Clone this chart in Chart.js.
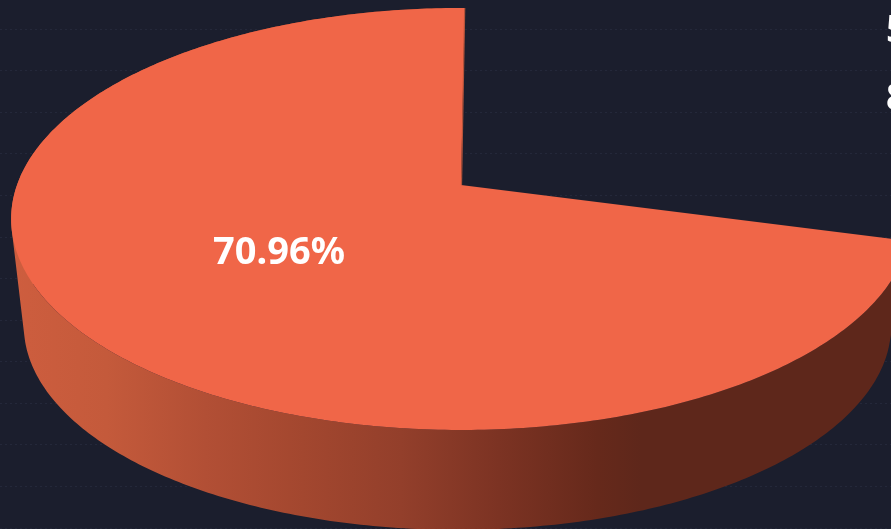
<!DOCTYPE html>
<html>
<head>
<meta charset="utf-8">
<title>Pie</title>
<script src="https://cdn.jsdelivr.net/npm/chart.js@4"></script>
<style>
    html, body { margin: 0; padding: 0; background: #1b1e2d; overflow: hidden; }
    #wrap { position: relative; width: 891px; height: 529px; }
</style>
</head>
<body>
<div id="wrap"><canvas id="myChart"></canvas></div>
<script>
"use strict";

const sliceNames = ['A', 'B'];
const sliceValues = [70.96, 29.04];
const sliceColors = ['#f06648', 'rgba(0, 0, 0, 0)'];
const sideLabels = ['5', '8'];
const gridTicks = [0, 1, 2, 3, 4, 5, 6, 7, 8, 9, 10, 11, 12];

// perspective look of the disc, top face and bottom face
const tilt = -0.161;
const topFace = { x: 461, y: 185, a: 444, b: 205.5 };
const bottomFace = { x: 457.5, y: 293, a: 428, b: 198.7 };

function project(face, angle, r) {
    const u = Math.cos(angle) * r;
    const v = Math.sin(angle) * r;
    const d = 1 + tilt * v;
    return { x: face.x + face.a * u / d, y: face.y + face.b * v / d };
}

function wallGradient(ctx) {
    const g = ctx.createLinearGradient(0, 0, 891, 0);
    g.addColorStop(0, '#cf5e3f');
    g.addColorStop(0.12, '#c45a3b');
    g.addColorStop(0.23, '#b24f35');
    g.addColorStop(0.34, '#a3472f');
    g.addColorStop(0.45, '#933f2b');
    g.addColorStop(0.56, '#7c3323');
    g.addColorStop(0.67, '#66291b');
    g.addColorStop(0.72, '#5e271b');
    g.addColorStop(1, '#5e271b');
    return g;
}

const disc3d = {
    id: 'disc3d',
    beforeDatasetsDraw(chart) {
        const ctx = chart.ctx;
        const arc = chart.getDatasetMeta(0).data[0];
        const start = arc.startAngle;
        const end = arc.endAngle;
        const steps = 360;
        const step = (end - start) / steps;

        // side wall, one path so the pieces leave no seams
        ctx.save();
        ctx.fillStyle = wallGradient(ctx);
        ctx.beginPath();
        for (let i = 0; i < steps; i++) {
            const t0 = start + i * step;
            const t1 = t0 + step;
            const quad = [project(topFace, t0, 1), project(topFace, t1, 1),
                project(bottomFace, t1, 1), project(bottomFace, t0, 1)];
            let area = 0;
            quad.forEach((p, k) => {
                const q = quad[(k + 1) % 4];
                area += p.x * q.y - q.x * p.y;
            });
            if (area < 0) {
                quad.reverse();
            }
            ctx.moveTo(quad[0].x, quad[0].y);
            quad.slice(1).forEach(p => ctx.lineTo(p.x, p.y));
            ctx.closePath();
        }
        ctx.fill();

        // top face
        ctx.fillStyle = arc.options.backgroundColor;
        ctx.beginPath();
        ctx.moveTo(topFace.x, topFace.y);
        for (let i = 0; i <= steps; i++) {
            const p = project(topFace, start + i * step, 1);
            ctx.lineTo(p.x, p.y);
        }
        ctx.closePath();
        ctx.fill();

        // thin shaded edge on the cut
        const tip = project(topFace, end, 1);
        ctx.strokeStyle = '#b5533a';
        ctx.lineWidth = 1.2;
        ctx.beginPath();
        ctx.moveTo(topFace.x + 0.5, topFace.y);
        ctx.lineTo(tip.x, tip.y);
        ctx.stroke();
        ctx.restore();
        return false;
    },
    afterDraw(chart) {
        const ctx = chart.ctx;
        const arc = chart.getDatasetMeta(0).data[0];
        const mid = (arc.startAngle + arc.endAngle) / 2;
        const pos = project(topFace, mid, 0.5);
        ctx.save();
        ctx.fillStyle = '#ffffff';
        ctx.font = 'bold 38px "Noto Sans"';
        ctx.textAlign = 'center';
        ctx.textBaseline = 'middle';
        ctx.fillText(sliceValues[0].toFixed(2) + '%', pos.x + 4, pos.y + 3);
        ctx.textAlign = 'left';
        ctx.textBaseline = 'alphabetic';
        ctx.fillText(sideLabels[0], 886, 42);
        ctx.fillText(sideLabels[1], 886, 110);
        ctx.restore();
    }
};

new Chart(document.getElementById('myChart'), {
    type: 'pie',
    data: {
        labels: sliceNames,
        datasets: [{
            data: sliceValues,
            backgroundColor: sliceColors,
            borderWidth: 0
        }]
    },
    options: {
        responsive: true,
        maintainAspectRatio: false,
        animation: false,
        rotation: 105.1,
        layout: { padding: 0 },
        scales: {
            y: {
                reverse: true,
                min: -0.7,
                max: 12.02,
                afterBuildTicks: scale => {
                    scale.ticks = gridTicks.map(v => ({ value: v }));
                },
                ticks: { display: false },
                border: { display: false, dash: [2, 3] },
                grid: { color: '#24283a', lineWidth: 1, drawTicks: false, tickLength: 0 }
            }
        },
        plugins: {
            legend: { display: false },
            tooltip: { enabled: false }
        }
    },
    plugins: [disc3d]
});
</script>
</body>
</html>
